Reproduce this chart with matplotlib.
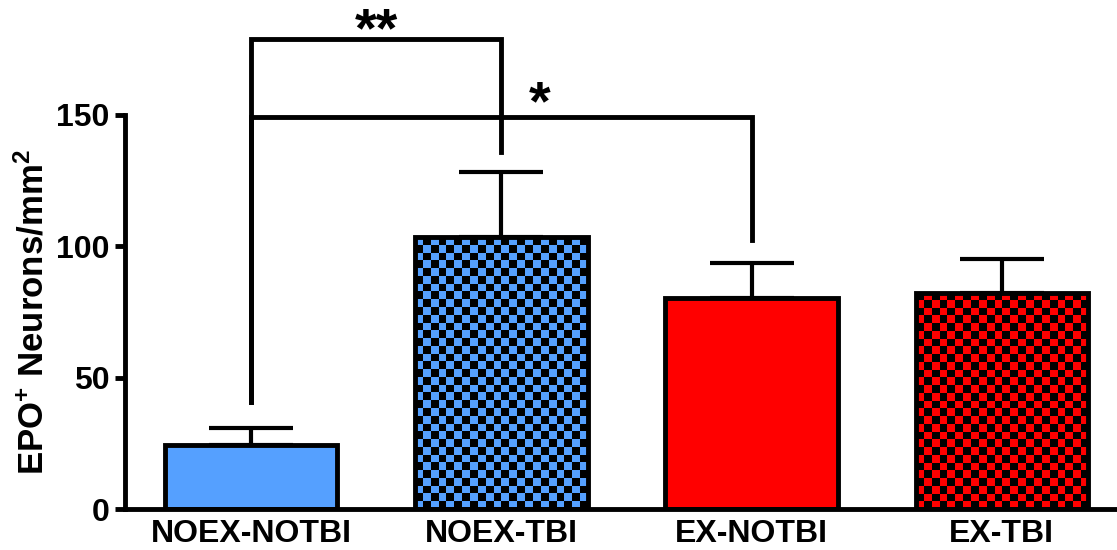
import numpy as np
import matplotlib
matplotlib.use("Agg")
import matplotlib.pyplot as plt
from matplotlib.colors import ListedColormap

plt.rcParams['font.family'] = ['Liberation Sans', 'DejaVu Sans']
plt.rcParams['font.weight'] = 'bold'
plt.rcParams['mathtext.fontset'] = 'custom'
plt.rcParams['mathtext.rm'] = 'Liberation Sans:bold'
plt.rcParams['mathtext.default'] = 'rm'

groups = ['NOEX-NOTBI', 'NOEX-TBI', 'EX-NOTBI', 'EX-TBI']
means = [24.2, 103.5, 80.3, 82.3]
errs = [6.7, 24.8, 13.3, 12.9]
colors = ['#55a0ff', '#55a0ff', '#ff0000', '#ff0000']
checker = [False, True, False, True]

# significance brackets: (left bar, right bar, top, left leg end, right leg end,
#                         label, label x, label baseline)
brackets = [(0, 1, 178.9, 40.7, 135.9, '**', 0.5, 176.2),
            (0, 2, 149.4, 40.7, 102.4, '*', 1.155, 148.5)]

fig = plt.figure(figsize=(11.17, 5.5), dpi=100)
ax = fig.add_axes([0.112, 0.0745, 0.888, 0.7165])

x = np.arange(len(groups))
width = 0.69
lw = 3.5

for i in range(len(groups)):
    face = 'none' if checker[i] else colors[i]
    bar = ax.bar(x[i], means[i], width, color=face, edgecolor='black',
                 linewidth=lw, zorder=2)[0]
    if checker[i]:
        ncols = 22
        nrows = max(1, int(round(means[i] / 2.97)))
        grid = (np.add.outer(np.arange(nrows), np.arange(ncols)) % 2)
        im = ax.imshow(grid, cmap=ListedColormap([colors[i], 'black']),
                       extent=(x[i] - width / 2, x[i] + width / 2, 0, means[i]),
                       aspect='auto', interpolation='nearest', zorder=1,
                       origin='lower')
        im.set_clip_path(bar)
    ax.errorbar(x[i], means[i], yerr=[[0], [errs[i]]], fmt='none',
                ecolor='black', elinewidth=3, capsize=30, capthick=3, zorder=1.5)

for a, b, top, ya, yb, label, lx, ly in brackets:
    ax.plot([x[a], x[a], x[b], x[b]], [ya, top, top, yb], color='black',
            lw=lw, clip_on=False, solid_joinstyle='miter', zorder=3)
    ax.text(lx, ly, label, ha='center', va='baseline', fontsize=40,
            fontweight='bold')

ax.set_xlim(-0.503, 3.46)
ax.set_ylim(0, 150)
ax.set_yticks([0, 50, 100, 150])
ax.set_xticks(x)
ax.set_xticklabels(groups)
ax.tick_params(axis='y', length=7, width=lw, labelsize=23, pad=4)
ax.tick_params(axis='x', length=0, labelsize=23, pad=7)
for lab in ax.get_xticklabels() + ax.get_yticklabels():
    lab.set_fontweight('bold')
ax.set_ylabel(r'EPO$^{+}$ Neurons/mm$^{2}$', fontsize=25, fontweight='bold',
              labelpad=4)

for s in ['top', 'right']:
    ax.spines[s].set_visible(False)
for s in ['left', 'bottom']:
    ax.spines[s].set_linewidth(lw)

fig.savefig('out.png', dpi=100)
